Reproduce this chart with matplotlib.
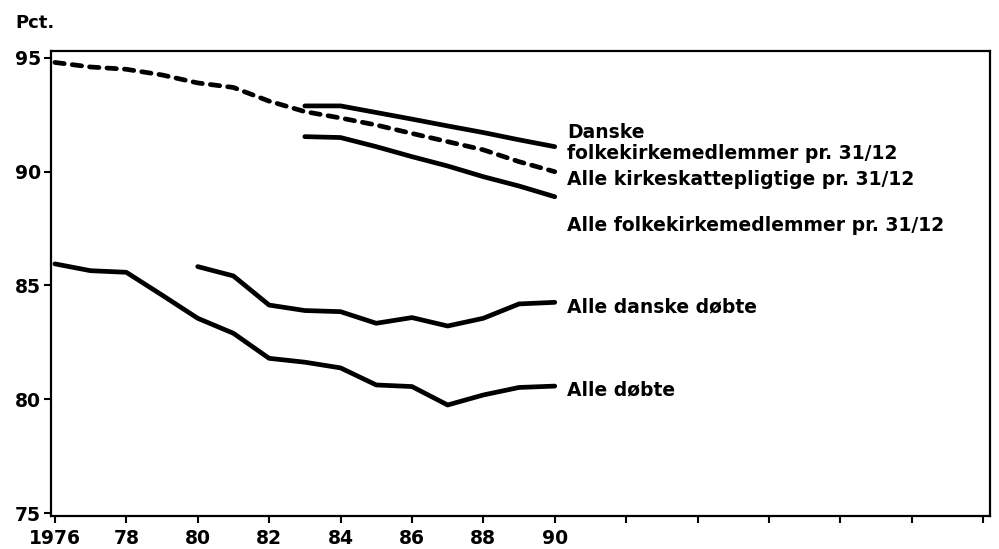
import numpy as np
import matplotlib
matplotlib.use("Agg")
import matplotlib.pyplot as plt

plt.rcParams['font.family'] = ['DejaVu Sans']
plt.rcParams['font.weight'] = 'bold'

# aar og serier (pct.)
years_all = [1976, 1977, 1978, 1979, 1980, 1981, 1982, 1983, 1984, 1985, 1986, 1987, 1988, 1989, 1990]
kirkeskat = [94.8, 94.6, 94.5, 94.25, 93.9, 93.7, 93.1, 92.64, 92.36, 92.05, 91.68, 91.32, 90.96, 90.44, 90.0]

years_83 = [1983, 1984, 1985, 1986, 1987, 1988, 1989, 1990]
danske_medl = [92.89, 92.89, 92.6, 92.31, 92.01, 91.72, 91.4, 91.1]
alle_medl = [91.54, 91.5, 91.1, 90.66, 90.25, 89.78, 89.37, 88.9]

years_80 = [1980, 1981, 1982, 1983, 1984, 1985, 1986, 1987, 1988, 1989, 1990]
danske_dobte = [85.83, 85.42, 84.14, 83.9, 83.85, 83.34, 83.59, 83.22, 83.56, 84.19, 84.26]

alle_dobte = [85.95, 85.65, 85.58, 84.58, 83.56, 82.9, 81.8, 81.63, 81.38, 80.63, 80.56, 79.75, 80.19, 80.52, 80.58]

labels = {
    "danske_medl": "Danske\nfolkekirkemedlemmer pr. 31/12",
    "kirkeskat": "Alle kirkeskattepligtige pr. 31/12",
    "alle_medl": "Alle folkekirkemedlemmer pr. 31/12",
    "danske_dobte": "Alle danske døbte",
    "alle_dobte": "Alle døbte",
}

xticks = list(range(1976, 2003, 2))
xticklabels = ["1976", "78", "80", "82", "84", "86", "88", "90"] + [""] * 6
yticks = [75, 80, 85, 90, 95]

fig = plt.figure(figsize=(9.99, 5.49), dpi=100)
ax = fig.add_axes([0.051, 0.060, 0.940, 0.847])

lw = 3.4
ax.plot(years_all, kirkeskat, color='black', lw=lw, dashes=(2.0, 1.7),
        dash_capstyle='round', solid_capstyle='round')
ax.plot(years_83, danske_medl, color='black', lw=lw, solid_capstyle='round')
ax.plot(years_83, alle_medl, color='black', lw=lw, solid_capstyle='round')
ax.plot(years_80, danske_dobte, color='black', lw=lw, solid_capstyle='round')
ax.plot(years_all, alle_dobte, color='black', lw=lw, solid_capstyle='round')

ax.set_xlim(1975.89, 2002.19)
ax.set_ylim(74.87, 95.3)
ax.set_xticks(xticks)
ax.set_xticklabels(xticklabels)
ax.set_yticks(yticks)
ax.tick_params(axis='both', direction='out', length=5, width=1.5, labelsize=13.5, pad=2)
ax.tick_params(axis='x', pad=4)
for s in ax.spines.values():
    s.set_linewidth(1.6)

tx = 1990.35
fs = 13.5
ax.text(tx, 91.26, labels["danske_medl"], fontsize=fs, va='center', ha='left', linespacing=1.15)
ax.text(tx, 89.65, labels["kirkeskat"], fontsize=fs, va='center', ha='left')
ax.text(tx, 87.65, labels["alle_medl"], fontsize=fs, va='center', ha='left')
ax.text(tx, 84.05, labels["danske_dobte"], fontsize=fs, va='center', ha='left')
ax.text(tx, 80.4, labels["alle_dobte"], fontsize=fs, va='center', ha='left')

fig.text(0.015, 1 - 23 / 549, "Pct.", fontsize=13, va='center', ha='left')

fig.savefig("out.png", dpi=100)
